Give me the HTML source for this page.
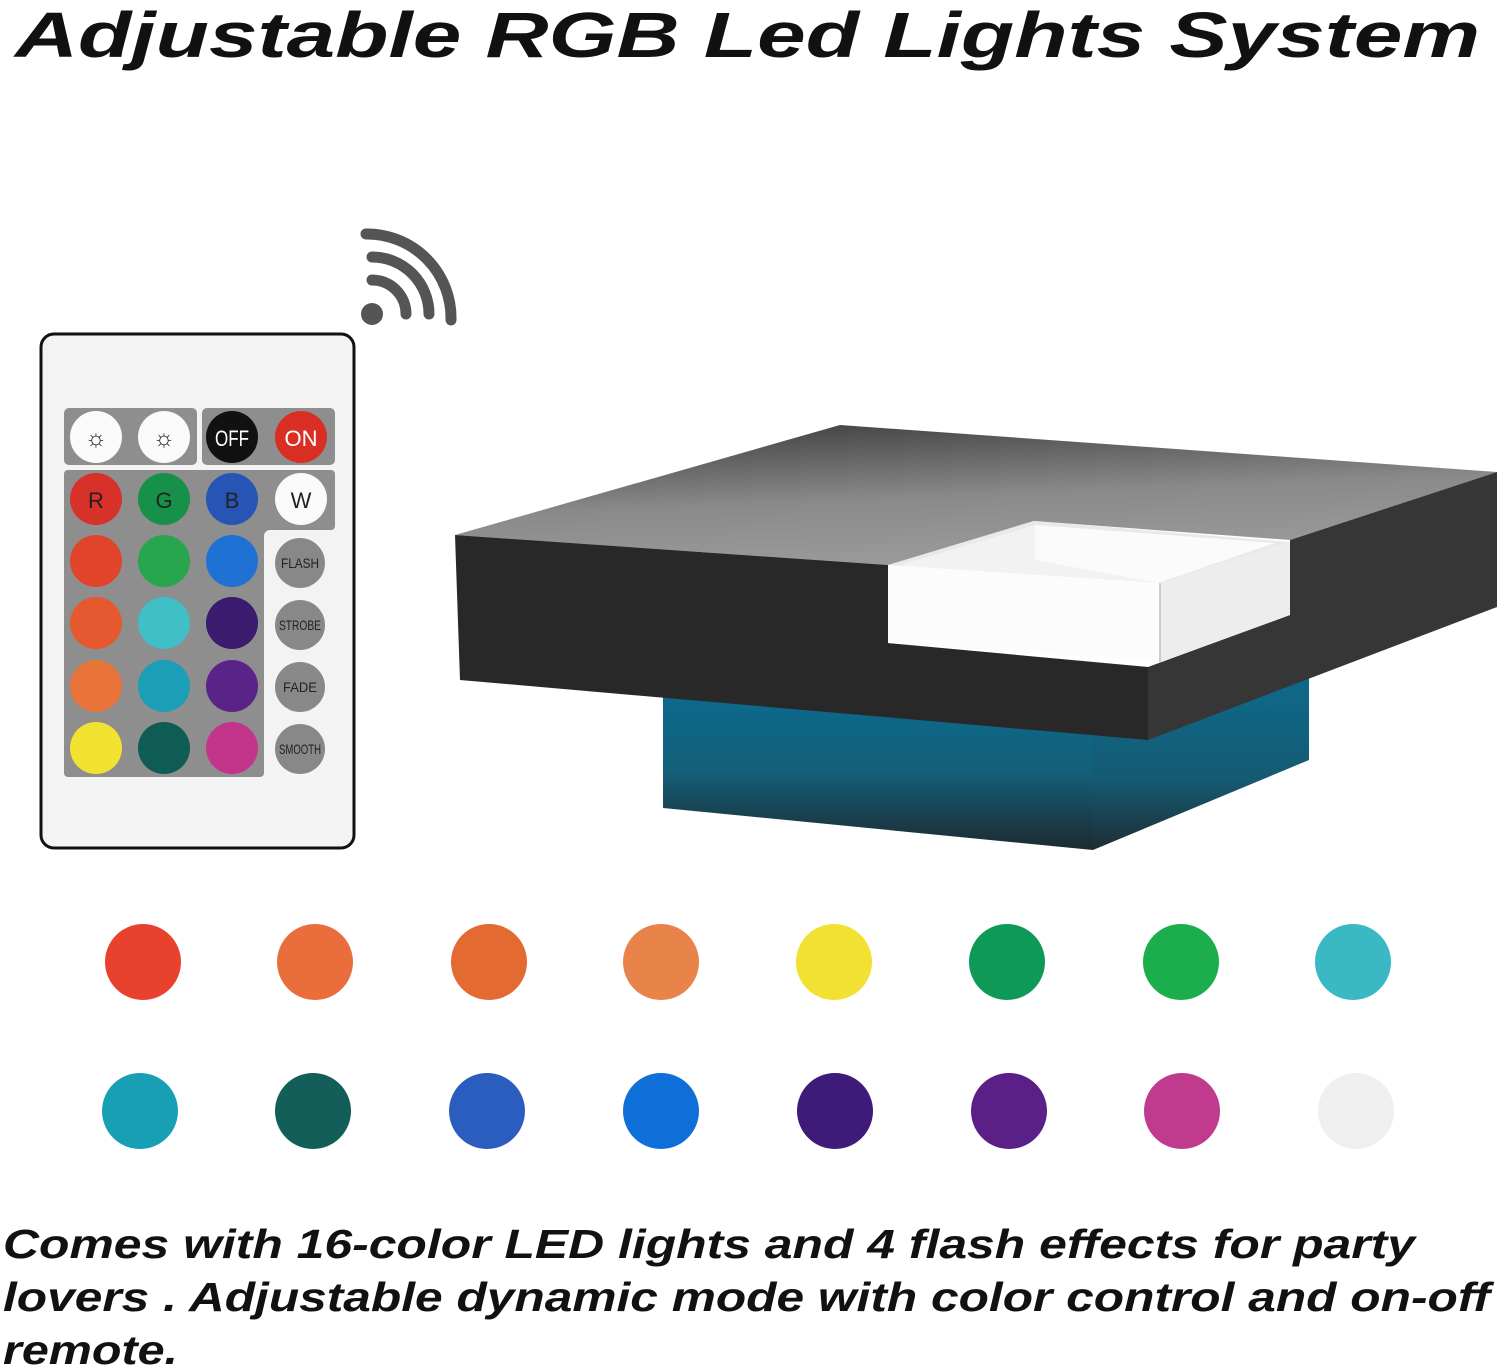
<!DOCTYPE html>
<html><head><meta charset="utf-8"><style>
html,body{margin:0;padding:0;background:#fff;}
svg{display:block;}
text{font-family:"Liberation Sans",sans-serif;}
</style></head><body>
<svg width="1500" height="1368" viewBox="0 0 1500 1368" xmlns="http://www.w3.org/2000/svg">
<defs>
<linearGradient id="top" x1="0" y1="0" x2="0.3" y2="1">
<stop offset="0" stop-color="#3a3a3a"/><stop offset="0.6" stop-color="#8a8a8a"/><stop offset="1" stop-color="#999"/></linearGradient>
<linearGradient id="base" x1="0" y1="0" x2="0" y2="1">
<stop offset="0" stop-color="#0b6a8e"/><stop offset="0.5" stop-color="#13607a"/><stop offset="1" stop-color="#1e2a30"/></linearGradient>
<linearGradient id="base2" x1="0" y1="0" x2="0" y2="1">
<stop offset="0" stop-color="#0e6a8c"/><stop offset="0.6" stop-color="#145a72"/><stop offset="1" stop-color="#1f2d34"/></linearGradient>
</defs>
<text x="15" y="57" font-size="64" font-weight="bold" font-style="italic" textLength="1465" lengthAdjust="spacingAndGlyphs" fill="#111">Adjustable RGB Led Lights System</text>

<!-- wifi -->
<g fill="none" stroke="#555" stroke-width="11" stroke-linecap="round">
<circle cx="372" cy="314" r="11" fill="#555" stroke="none"/>
<path d="M372 280 A34 34 0 0 1 406 314"/>
<path d="M372 257 A57 57 0 0 1 429 314"/>
<path d="M366 234 A84 84 0 0 1 451 320"/>
</g>

<!-- remote -->
<rect x="41" y="334" width="313" height="514" rx="13" fill="#f3f3f3" stroke="#111" stroke-width="3"/>
<rect x="64" y="408" width="133" height="57" rx="5" fill="#8e8e8e"/>
<rect x="202" y="408" width="133" height="57" rx="5" fill="#8e8e8e"/>
<path d="M68 470 H331 a4 4 0 0 1 4 4 V526 a4 4 0 0 1 -4 4 H270 a6 6 0 0 0 -6 6 V773 a4 4 0 0 1 -4 4 H68 a4 4 0 0 1 -4 -4 V474 a4 4 0 0 1 4 -4Z" fill="#8e8e8e"/>
<g>
<circle cx="96" cy="437" r="26" fill="#fafafa"/><circle cx="164" cy="437" r="26" fill="#fafafa"/>
<text x="96" y="446" font-size="24" text-anchor="middle" fill="#222">☼</text>
<text x="164" y="446" font-size="24" text-anchor="middle" fill="#222">☼</text>
<circle cx="232" cy="437" r="26" fill="#111"/><circle cx="301" cy="437" r="26" fill="#d92e24"/>
<text x="232" y="446" font-size="22" text-anchor="middle" fill="#fff" textLength="34" lengthAdjust="spacingAndGlyphs">OFF</text>
<text x="301" y="446" font-size="22" text-anchor="middle" fill="#fff">ON</text>

<circle cx="96" cy="499" r="26" fill="#d8312a"/><circle cx="164" cy="499" r="26" fill="#17904a"/><circle cx="232" cy="499" r="26" fill="#2655b5"/><circle cx="301" cy="499" r="26" fill="#fafafa"/>
<text x="96" y="508" font-size="22" text-anchor="middle" fill="#222">R</text>
<text x="164" y="508" font-size="22" text-anchor="middle" fill="#222">G</text>
<text x="232" y="508" font-size="22" text-anchor="middle" fill="#222">B</text>
<text x="301" y="508" font-size="22" text-anchor="middle" fill="#222">W</text>

<circle cx="96" cy="561" r="26" fill="#e0452c"/><circle cx="164" cy="561" r="26" fill="#27a64e"/><circle cx="232" cy="561" r="26" fill="#1f72d4"/>
<circle cx="96" cy="623" r="26" fill="#e6582f"/><circle cx="164" cy="623" r="26" fill="#40bfc7"/><circle cx="232" cy="623" r="26" fill="#3b1b6e"/>
<circle cx="96" cy="686" r="26" fill="#e8743a"/><circle cx="164" cy="686" r="26" fill="#1c9fb6"/><circle cx="232" cy="686" r="26" fill="#5a2387"/>
<circle cx="96" cy="748" r="26" fill="#f3e331"/><circle cx="164" cy="748" r="26" fill="#0f5c55"/><circle cx="232" cy="748" r="26" fill="#c2358b"/>

<circle cx="300" cy="563" r="25" fill="#888"/><circle cx="300" cy="625" r="25" fill="#888"/><circle cx="300" cy="687" r="25" fill="#888"/><circle cx="300" cy="749" r="25" fill="#888"/>
<g font-size="14" text-anchor="middle" fill="#222">
<text x="300" y="568" textLength="38" lengthAdjust="spacingAndGlyphs">FLASH</text>
<text x="300" y="630" textLength="42" lengthAdjust="spacingAndGlyphs">STROBE</text>
<text x="300" y="692" textLength="34" lengthAdjust="spacingAndGlyphs">FADE</text>
<text x="300" y="754" textLength="42" lengthAdjust="spacingAndGlyphs">SMOOTH</text>
</g>
</g>

<!-- table base -->
<polygon points="663,690 1093,720 1093,850 663,808" fill="url(#base)"/>
<polygon points="1093,720 1309,675 1309,760 1093,850" fill="url(#base2)"/>
<!-- table top -->
<polygon points="455,535 840,425 1497,472 1290,540 1034,521 888,565" fill="url(#top)"/>
<polygon points="455,535 888,565 888,643 1148,667 1148,740 460,680" fill="#282828"/>
<polygon points="1148,667 1290,615 1290,540 1497,472 1497,607 1148,740" fill="#363636"/>
<!-- white box -->
<polygon points="888,565 1034,521 1290,542 1160,583" fill="#e9e9e9"/>
<polygon points="894,567 1035,525 1035,560 1158,583" fill="#f2f2f2"/>
<polygon points="1035,525 1275,543 1158,583 1035,560" fill="#fbfbfb"/>
<polygon points="888,565 1160,583 1160,662 888,643" fill="#fcfcfc"/>
<polygon points="1160,583 1290,542 1290,615 1160,662" fill="#ededed"/>
<line x1="1160" y1="583" x2="1160" y2="662" stroke="#ccc" stroke-width="2"/>

<!-- color dots -->
<g>
<circle cx="143" cy="962" r="38" fill="#e8422f"/><circle cx="315" cy="962" r="38" fill="#ea6e3c"/><circle cx="489" cy="962" r="38" fill="#e36a30"/><circle cx="661" cy="962" r="38" fill="#e8844a"/>
<circle cx="834" cy="962" r="38" fill="#f2e032"/><circle cx="1007" cy="962" r="38" fill="#0e9a56"/><circle cx="1181" cy="962" r="38" fill="#1cad4c"/><circle cx="1353" cy="962" r="38" fill="#3ab8c4"/>
<circle cx="140" cy="1111" r="38" fill="#189fb4"/><circle cx="313" cy="1111" r="38" fill="#145e5a"/><circle cx="487" cy="1111" r="38" fill="#2b5cc0"/><circle cx="661" cy="1111" r="38" fill="#0f6fd8"/>
<circle cx="835" cy="1111" r="38" fill="#3e1b78"/><circle cx="1009" cy="1111" r="38" fill="#5a2087"/><circle cx="1182" cy="1111" r="38" fill="#c03a8e"/><circle cx="1356" cy="1111" r="38" fill="#efefef"/>
</g>

<g font-size="41" font-weight="bold" font-style="italic" fill="#111">
<text x="3" y="1258" textLength="1412" lengthAdjust="spacingAndGlyphs">Comes with 16-color LED lights and 4 flash effects for party</text>
<text x="3" y="1311" textLength="1487" lengthAdjust="spacingAndGlyphs">lovers . Adjustable dynamic mode with color control and on-off</text>
<text x="3" y="1364" textLength="175" lengthAdjust="spacingAndGlyphs">remote.</text>
</g>
</svg>
</body></html>
